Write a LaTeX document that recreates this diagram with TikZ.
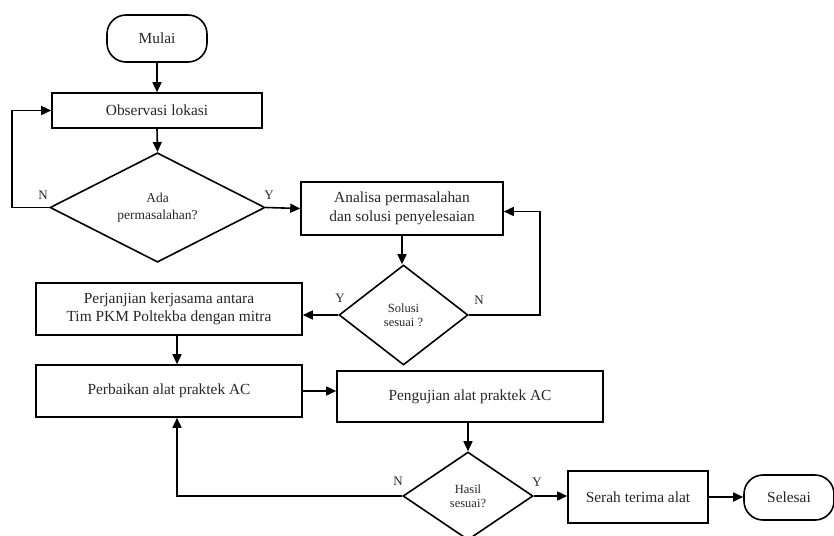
\documentclass[tikz,border=0pt]{standalone}
\usepackage{fontspec}
\setmainfont{Liberation Serif}
\usetikzlibrary{shapes.geometric,arrows.meta}
\tikzset{
  base/.style={draw=black, line width=1.6pt, inner sep=0pt, align=center, text=black!85,
    font=\fontsize{15.4}{18.5}\selectfont},
  proc/.style={base, rectangle},
  term/.style={base, rectangle, rounded corners=19pt},
  decis/.style={base, diamond},
  smallfont/.style={font=\fontsize{12.5}{14.5}\selectfont},
  lbl/.style={font=\fontsize{13}{15}\selectfont, text=black!85, inner sep=0pt},
  conn/.style={line width=1.6pt, -{Triangle[length=10pt,width=9pt]}},
  line/.style={line width=1.6pt}
}
\begin{document}
\begin{tikzpicture}[x=1pt,y=-1pt]
\useasboundingbox (0,0) rectangle (834,535);

\node[term, minimum width=100pt, minimum height=47pt] (mulai) at (157,38.5) {Mulai};
\node[proc, minimum width=210pt, minimum height=35pt] (obs) at (157,110.5) {Observasi lokasi};
\node[decis, minimum width=215pt, minimum height=101pt, font=\fontsize{13.5}{17}\selectfont] (d1) at (157.5,207.5) {Ada\\permasalahan?};
\node[proc, minimum width=202pt, minimum height=53pt] (ana) at (402,208.5) {Analisa permasalahan\\dan solusi penyelesaian};
\node[decis, minimum width=129pt, minimum height=100pt, smallfont] (d2) at (403.5,315) {Solusi\\sesuai ?};
\node[proc, minimum width=266pt, minimum height=52pt] (perj) at (169,309) {Perjanjian kerjasama antara\\Tim PKM Poltekba dengan mitra};
\node[proc, minimum width=266pt, minimum height=52pt] (perb) at (169,391) {Perbaikan alat praktek AC};
\node[proc, minimum width=266pt, minimum height=51pt] (peng) at (470,396.5) {Pengujian alat praktek AC};
\node[decis, minimum width=130pt, minimum height=88pt, smallfont] (d3) at (468,496) {Hasil\\sesuai?};
\node[proc, minimum width=140pt, minimum height=52pt] (serah) at (638,497) {Serah terima alat};
\node[term, minimum width=90pt, minimum height=45pt] (selesai) at (789,497.5) {Selesai};

\draw[conn] (mulai.south) -- (obs.north);
\draw[conn] (obs.south) -- (d1.north);
\draw[conn] (d1.west) -- ++(-37,0) |- (obs.west);
\draw[conn] (d1.east) -- (ana.west);
\draw[conn] (ana.south) -- (ana.south |- d2.north);
\draw[conn] (d2.east) -- ++(71,0) |- ([yshift=-3pt]ana.east);
\draw[conn] (d2.west) -- (d2.west -| perj.east);
\draw[conn] ([xshift=8pt]perj.south) -- ([xshift=8pt]perb.north);
\draw[conn] (perb.east) -- (perb.east -| peng.west);
\draw[conn] (d3.north |- peng.south) -- (d3.north);
\draw[conn] (d3.west) -| ([xshift=8pt]perb.south);
\draw[conn] (d3.east) -- (d3.east -| serah.west);
\draw[conn] (serah.east) -- (serah.east -| selesai.west);

\node[lbl] (n1) at (43,195) {N};
\node[lbl] (y1) at (269,195) {Y};
\node[lbl] (y2) at (340,298) {Y};
\node[lbl] (n2) at (479,300) {N};
\node[lbl] (n3) at (398,481) {N};
\node[lbl] (y3) at (537,482) {Y};
\end{tikzpicture}
\end{document}
